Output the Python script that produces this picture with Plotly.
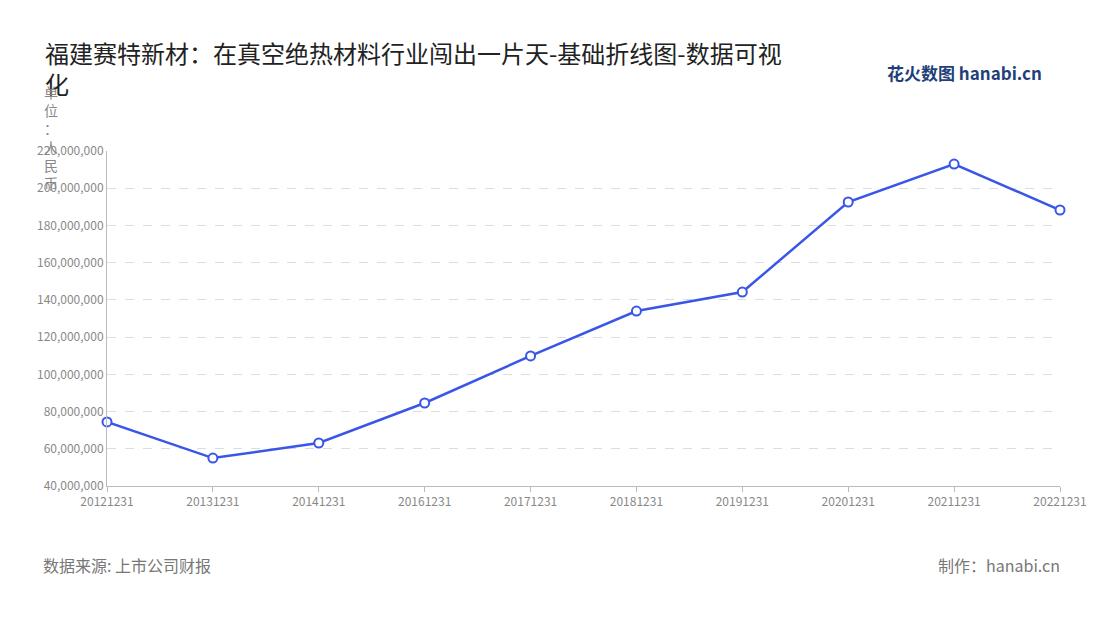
import plotly.graph_objects as go

categories = ["20121231","20131231","20141231","20161231","20171231","20181231","20191231","20201231","20211231","20221231"]
values = [74400000,55000000,63100000,84600000,109900000,134000000,144200000,192600000,213000000,188300000]
tick_vals = list(range(40000000, 220000001, 20000000))

L, R, T, B = 99, 48, 143, 142
fig = go.Figure(go.Scatter(
    x=categories, y=values, mode="lines+markers",
    line=dict(color="#3a56e8", width=2.5),
    marker=dict(size=9, color="white", line=dict(color="#3a56e8", width=2)),
    cliponaxis=False,
))
font = "Noto Sans CJK SC"
fig.update_layout(
    width=1100, height=620, paper_bgcolor="white", plot_bgcolor="white",
    margin=dict(l=L, r=R, t=T, b=B),
    showlegend=False,
    font=dict(family=font, color="#888", size=12),
    xaxis=dict(type="category", range=[0, len(categories)-1], showgrid=False,
               showline=True, linecolor="#bbb", ticks="outside", ticklen=5, tickcolor="#bbb",
               tickfont=dict(size=12, color="#888")),
    yaxis=dict(range=[40000000, 220000000], tickvals=tick_vals, tickformat=",d",
               showgrid=True, gridcolor="#ddd", griddash="dash", zeroline=False,
               showline=True, linecolor="#bbb", tickfont=dict(size=12, color="#888")),
    annotations=[
        dict(text="福建赛特新材：在真空绝热材料行业闯出一片天-基础折线图-数据可视<br>化", x=35, y=25,
             showarrow=False, align="left", xanchor="left", yanchor="top",
             font=dict(size=24, color="#222", family=font)),
        dict(text="单<br>位<br>：<br>人<br>民<br>币", x=34, y=72, showarrow=False, yanchor="top",
             font=dict(size=14, color="#888")),
        dict(text="<b>花火数图</b> <b>hanabi.cn</b>", x=1036, y=50, showarrow=False,
             font=dict(size=17, color="#1f3f7a")),
        dict(text="数据来源: 上市公司财报", x=33, y=571, showarrow=False, xanchor="left",
             font=dict(size=16, color="#777")),
        dict(text="制作：hanabi.cn", x=1054, y=571, showarrow=False, xanchor="right",
             font=dict(size=16, color="#777")),
    ],
)
pw, ph = 1100-L-R, 620-T-B
for a in fig.layout.annotations:
    a.xref = "paper"; a.yref = "paper"
    a.x = (a.x - L) / pw
    a.y = 1 - (a.y - T) / ph
fig.write_html("out.html")
